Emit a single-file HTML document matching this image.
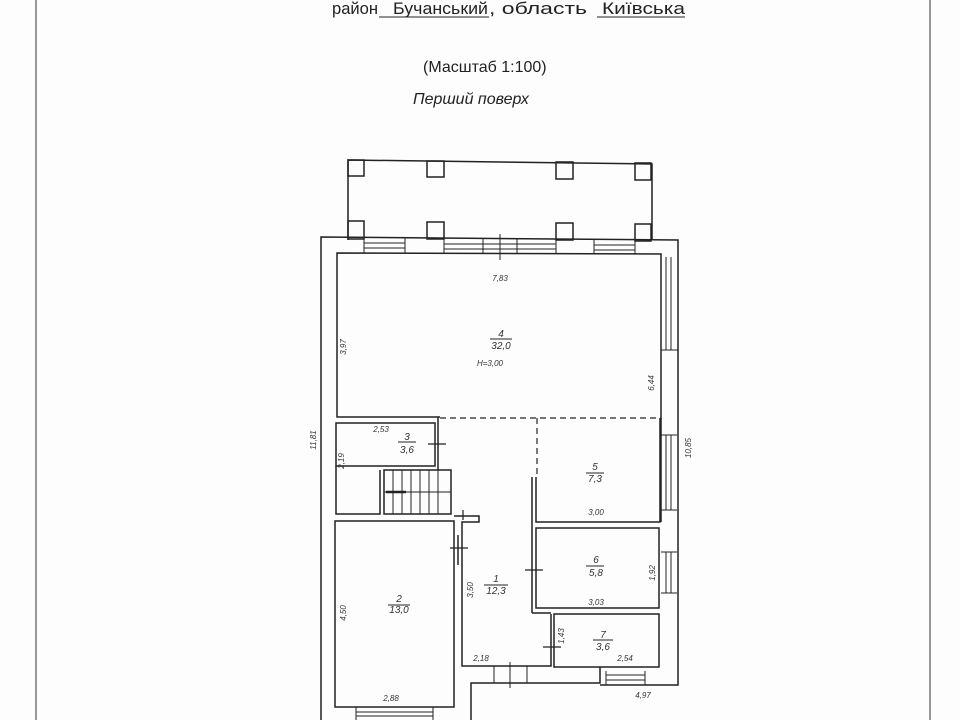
<!DOCTYPE html>
<html><head><meta charset="utf-8"><style>
body{margin:0;background:#fff;width:960px;height:720px;overflow:hidden}
svg{display:block}
.t{font-family:"Liberation Sans",sans-serif;fill:#222}
.s{font-family:"Liberation Sans",sans-serif;font-style:italic;font-size:8px;fill:#333}
</style></head><body>
<svg width="960" height="720" viewBox="0 0 960 720">
<rect width="960" height="720" fill="#fdfdfd"/>
<line x1="36" y1="0" x2="36" y2="720" stroke="#555" stroke-width="1.2"/>
<line x1="930" y1="0" x2="930" y2="720" stroke="#555" stroke-width="1.2"/>
<text class="t" x="332" y="14" font-size="17" textLength="46" lengthAdjust="spacingAndGlyphs">район</text>
<text class="t" x="393" y="14" font-size="17" textLength="95" lengthAdjust="spacingAndGlyphs">Бучанський</text>
<line x1="379" y1="17" x2="489" y2="17" stroke="#222"/>
<text class="t" x="489" y="14" font-size="17" textLength="98" lengthAdjust="spacingAndGlyphs">, область</text>
<text class="t" x="602" y="14" font-size="17" textLength="83" lengthAdjust="spacingAndGlyphs">Київська</text>
<line x1="597" y1="17" x2="685" y2="17" stroke="#222"/>
<text class="t" x="423" y="72" font-size="16">(Масштаб 1:100)</text>
<text class="t" x="413" y="104" font-size="16" font-style="italic">Перший поверх</text>
<g fill="none" stroke="#222" stroke-width="1.5">
<polyline points="348,240 348,160 652,164 652,240"/>
<rect x="348" y="160" width="16" height="16"/><rect x="427" y="161" width="17" height="16"/>
<rect x="556" y="162" width="17" height="17"/><rect x="635" y="163" width="16" height="17"/>
<rect x="348" y="221" width="16" height="18"/><rect x="427" y="222" width="17" height="17"/>
<rect x="556" y="223" width="17" height="17"/><rect x="635" y="224" width="16" height="17"/>
<polyline points="321,720 321,237 678,240 678,685 600,685"/>
<g stroke-width="1">
<line x1="364" y1="243" x2="405" y2="243"/><line x1="364" y1="248" x2="405" y2="248"/>
<line x1="444" y1="244" x2="556" y2="244"/><line x1="444" y1="249" x2="556" y2="249"/>
<line x1="594" y1="245" x2="635" y2="245"/><line x1="594" y1="250" x2="635" y2="250"/>
<line x1="364" y1="237" x2="364" y2="253"/><line x1="405" y1="238" x2="405" y2="253"/>
<line x1="444" y1="238" x2="444" y2="253"/><line x1="483" y1="238" x2="483" y2="253"/>
<line x1="517" y1="239" x2="517" y2="253"/><line x1="556" y1="239" x2="556" y2="254"/>
<line x1="594" y1="240" x2="594" y2="254"/><line x1="635" y1="240" x2="635" y2="254"/>
<line x1="500" y1="234" x2="500" y2="260"/>
<line x1="666" y1="257" x2="666" y2="350"/><line x1="671" y1="257" x2="671" y2="350"/>
<line x1="661" y1="350" x2="678" y2="350"/>
<line x1="661" y1="435" x2="677" y2="435"/><line x1="661" y1="510" x2="677" y2="510"/>
<line x1="666" y1="435" x2="666" y2="510"/><line x1="671" y1="435" x2="671" y2="510"/>
<line x1="661" y1="552" x2="677" y2="552"/><line x1="661" y1="593" x2="677" y2="593"/>
<line x1="666" y1="552" x2="666" y2="593"/><line x1="671" y1="552" x2="671" y2="593"/>
<line x1="606" y1="671" x2="606" y2="685"/><line x1="645" y1="671" x2="645" y2="685"/>
<line x1="606" y1="675" x2="645" y2="675"/><line x1="606" y1="680" x2="645" y2="680"/>
<line x1="356" y1="707" x2="356" y2="720"/><line x1="433" y1="707" x2="433" y2="720"/>
<line x1="356" y1="712" x2="433" y2="712"/><line x1="356" y1="716" x2="433" y2="716"/>
<line x1="494" y1="666" x2="494" y2="683"/><line x1="527" y1="666" x2="527" y2="683"/>
<line x1="510" y1="662" x2="510" y2="688"/>
</g>
<polyline points="440,417 337,417 337,253 661,254 661,417"/>
<line x1="661" y1="417" x2="661" y2="522"/>
<rect x="336" y="423" width="99" height="43"/>
<line x1="438" y1="417" x2="438" y2="470"/>
<polyline points="380,470 380,514 336,514 336,466"/>
<rect x="384" y="470" width="67" height="44"/>
<g stroke-width="1"><line x1="393" y1="470" x2="393" y2="514"/><line x1="402" y1="470" x2="402" y2="514"/><line x1="411" y1="470" x2="411" y2="514"/><line x1="420" y1="470" x2="420" y2="514"/><line x1="429" y1="470" x2="429" y2="514"/><line x1="438" y1="470" x2="438" y2="514"/><line x1="384" y1="492" x2="451" y2="492"/></g>
<rect x="335" y="521" width="119" height="186"/>
<polyline points="454,516 479,516 479,522 462,522 462,666 551,666 551,614"/>
<line x1="458" y1="535" x2="458" y2="565"/>
<polyline points="536,477 536,522 660,522 660,418"/>
<line x1="532" y1="477" x2="532" y2="613"/><line x1="532" y1="613" x2="551" y2="613"/>
<rect x="536" y="528" width="123" height="80"/>
<rect x="554" y="614" width="105" height="53"/>
<polyline points="471,720 471,683 600,683 600,667"/>
</g>
<g fill="none" stroke="#222" stroke-width="1.2" stroke-dasharray="6,4">
<line x1="440" y1="418" x2="661" y2="418"/><line x1="537" y1="418" x2="537" y2="477"/>
</g>
<g stroke="#222" stroke-width="1.2">
<line x1="428" y1="444" x2="446" y2="444"/><line x1="450" y1="548" x2="468" y2="548"/>
<line x1="525" y1="570" x2="543" y2="570"/><line x1="543" y1="647" x2="561" y2="647"/>
<line x1="386" y1="492" x2="406" y2="492" stroke-width="2.5"/>
<line x1="463" y1="510" x2="463" y2="520"/>
<line x1="398" y1="442" x2="416" y2="442" stroke-width="1"/><line x1="490" y1="339" x2="512" y2="339" stroke-width="1"/>
<line x1="484" y1="585" x2="508" y2="585" stroke-width="1"/><line x1="388" y1="605" x2="410" y2="605" stroke-width="1"/>
<line x1="586" y1="473" x2="604" y2="473" stroke-width="1"/><line x1="586" y1="566" x2="604" y2="566" stroke-width="1"/>
<line x1="593" y1="640" x2="613" y2="640" stroke-width="1"/>
</g>
<g class="s" text-anchor="middle">
<text x="500" y="281">7,83</text>
<text x="501" y="337" font-size="10">4</text><text x="501" y="349" font-size="10">32,0</text>
<text x="490" y="366">H=3,00</text>
<text x="407" y="440" font-size="10">3</text><text x="407" y="453" font-size="10">3,6</text>
<text x="381" y="432">2,53</text>
<text x="595" y="470" font-size="10">5</text><text x="595" y="482" font-size="10">7,3</text>
<text x="596" y="515">3,00</text>
<text x="596" y="563" font-size="10">6</text><text x="596" y="576" font-size="10">5,8</text>
<text x="596" y="605">3,03</text>
<text x="603" y="638" font-size="10">7</text><text x="603" y="650" font-size="10">3,6</text>
<text x="625" y="661">2,54</text>
<text x="496" y="582" font-size="10">1</text><text x="496" y="594" font-size="10">12,3</text>
<text x="399" y="602" font-size="10">2</text><text x="399" y="613" font-size="10">13,0</text>
<text x="481" y="661">2,18</text><text x="391" y="701">2,88</text><text x="643" y="698">4,97</text>
<text transform="translate(346,347) rotate(-90)">3,97</text>
<text transform="translate(654,383) rotate(-90)">6,44</text>
<text transform="translate(344,461) rotate(-90)">2,19</text>
<text transform="translate(316,440) rotate(-90)">11,81</text>
<text transform="translate(691,448) rotate(-90)">10,85</text>
<text transform="translate(473,590) rotate(-90)">3,50</text>
<text transform="translate(346,613) rotate(-90)">4,50</text>
<text transform="translate(655,573) rotate(-90)">1,92</text>
<text transform="translate(564,636) rotate(-90)">1,43</text>
</g>
</svg>
</body></html>
